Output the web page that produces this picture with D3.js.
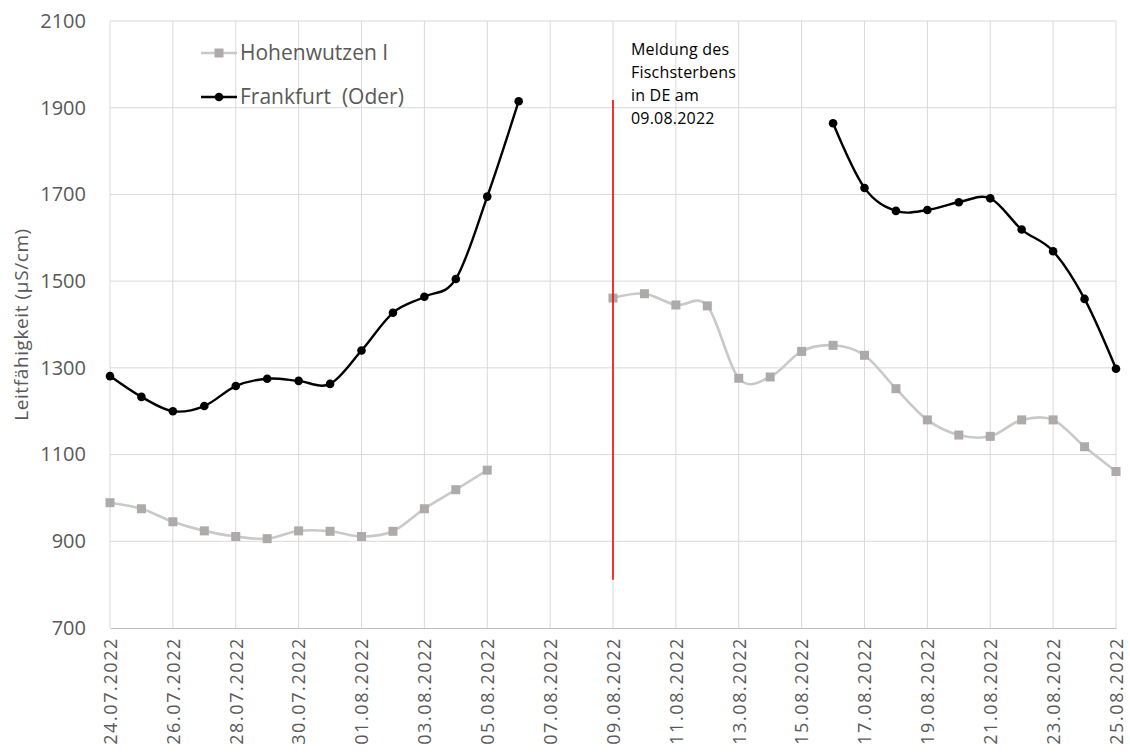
<!DOCTYPE html>
<html>
<head>
<meta charset="utf-8">
<script src="https://cdn.jsdelivr.net/npm/d3@7"></script>
<style>
  html, body { margin: 0; padding: 0; background: #fff; }
  svg { display: block; }
</style>
</head>
<body>
<svg id="chart" width="1130" height="755"></svg>
<script>
// ---- data ----
const dates = ["24.07.2022","25.07.2022","26.07.2022","27.07.2022","28.07.2022","29.07.2022","30.07.2022","31.07.2022",
  "01.08.2022","02.08.2022","03.08.2022","04.08.2022","05.08.2022","06.08.2022","07.08.2022","08.08.2022",
  "09.08.2022","10.08.2022","11.08.2022","12.08.2022","13.08.2022","14.08.2022","15.08.2022","16.08.2022",
  "17.08.2022","18.08.2022","19.08.2022","20.08.2022","21.08.2022","22.08.2022","23.08.2022","24.08.2022","25.08.2022"];
const tickLabels = dates.filter((d, i) => i % 2 === 0);
const yTicks = [700, 900, 1100, 1300, 1500, 1700, 1900, 2100];

const hohenwutzen = [989, 975, 945, 924, 911, 906, 924, 923, 911, 923, 975, 1019, 1064,
  null, null, null,
  1461, 1471, 1445, 1443, 1276, 1279, 1338, 1352, 1329, 1252, 1180, 1145, 1142, 1180, 1180, 1118, 1061];
const frankfurt = [1281, 1233, 1200, 1212, 1258, 1275, 1270, 1263, 1340, 1427, 1464, 1505, 1695, 1915,
  null, null, null, null, null, null, null, null, null,
  1864, 1715, 1662, 1664, 1682, 1691, 1619, 1569, 1459, 1298];

const eventDate = "09.08.2022";
const eventRange = [811, 1918];
const annotationLines = ["Meldung des", "Fischsterbens", "in DE am", "09.08.2022"];
const seriesNames = ["Hohenwutzen I", "Frankfurt  (Oder)"];
const yTitle = "Leitfähigkeit (µS/cm)";

// ---- layout ----
const svg = d3.select("#chart");
const pLeft = 110, pRight = 1116, pTop = 21, pBottom = 628;
const x = d3.scalePoint().domain(dates).range([pLeft, pRight]);
const y = d3.scaleLinear().domain([700, 2100]).range([pBottom, pTop]);
const font = "'Open Sans', 'DejaVu Sans', sans-serif";
const txtCol = "#595959";

// gridlines
svg.append("g").selectAll("line").data(yTicks.filter(v => v !== 700)).join("line")
  .attr("x1", pLeft).attr("x2", pRight).attr("y1", d => y(d)).attr("y2", d => y(d))
  .attr("stroke", "#d9d9d9").attr("stroke-width", 1);
svg.append("g").selectAll("line").data(tickLabels).join("line")
  .attr("x1", d => x(d)).attr("x2", d => x(d)).attr("y1", pTop).attr("y2", pBottom)
  .attr("stroke", "#d9d9d9").attr("stroke-width", 1);

// bottom axis
const xAxis = d3.axisBottom(x).tickValues(tickLabels).tickSize(0).tickPadding(10);
const gx = svg.append("g").attr("transform", `translate(0,${pBottom})`).call(xAxis);
gx.select(".domain").attr("stroke", "#bfbfbf").attr("stroke-width", 1.2);
gx.selectAll("text")
  .attr("transform", "rotate(-90)")
  .attr("x", -9).attr("y", 0).attr("dy", "0.35em")
  .style("text-anchor", "end")
  .attr("fill", txtCol)
  .style("font-family", font).style("font-size", "18px").style("letter-spacing", "1.6px");

// left axis
const yAxis = d3.axisLeft(y).tickValues(yTicks).tickSize(0).tickPadding(24).tickFormat(d3.format("d"));
const gy = svg.append("g").attr("transform", `translate(${pLeft},0)`).call(yAxis);
gy.select(".domain").remove();
gy.selectAll("text").attr("fill", txtCol)
  .style("font-family", font).style("font-size", "20px");

// y title
svg.append("text")
  .attr("transform", `translate(21,${(pTop + pBottom) / 2}) rotate(-90)`)
  .attr("text-anchor", "middle").attr("dy", "0.35em")
  .attr("fill", txtCol).style("font-family", font).style("font-size", "19px")
  .style("letter-spacing", "0.6px")
  .text(yTitle);

// lines
const line = d3.line()
  .defined(d => d.v !== null)
  .x(d => x(d.date)).y(d => y(d.v))
  .curve(d3.curveCatmullRom.alpha(0));

const hData = dates.map((d, i) => ({ date: d, v: hohenwutzen[i] }));
const fData = dates.map((d, i) => ({ date: d, v: frankfurt[i] }));

svg.append("path").datum(hData).attr("d", line)
  .attr("fill", "none").attr("stroke", "#c9c9c9").attr("stroke-width", 2.6);
svg.append("g").selectAll("rect").data(hData.filter(d => d.v !== null)).join("rect")
  .attr("x", d => x(d.date) - 4.5).attr("y", d => y(d.v) - 4.5)
  .attr("width", 9).attr("height", 9).attr("fill", "#aeaaaa");

svg.append("path").datum(fData).attr("d", line)
  .attr("fill", "none").attr("stroke", "#000").attr("stroke-width", 2.4);
svg.append("g").selectAll("circle").data(fData.filter(d => d.v !== null)).join("circle")
  .attr("cx", d => x(d.date)).attr("cy", d => y(d.v)).attr("r", 4.3).attr("fill", "#000");

// event line
svg.append("line")
  .attr("x1", x(eventDate)).attr("x2", x(eventDate))
  .attr("y1", y(eventRange[0])).attr("y2", y(eventRange[1]))
  .attr("stroke", "#ff0000").attr("stroke-width", 1.6);

// annotation
const ann = svg.append("text").attr("x", 631).attr("y", 55)
  .attr("fill", "#000").style("font-family", font).style("font-size", "16px")
  .style("letter-spacing", "0.2px");
ann.selectAll("tspan").data(annotationLines).join("tspan")
  .attr("x", 631).attr("dy", (d, i) => i === 0 ? 0 : 23).text(d => d);

// legend
const legend = svg.append("g");
const legY = [53, 97];
legend.append("line").attr("x1", 201).attr("x2", 237).attr("y1", legY[0]).attr("y2", legY[0])
  .attr("stroke", "#c9c9c9").attr("stroke-width", 2.6);
legend.append("rect").attr("x", 219 - 4.5).attr("y", legY[0] - 4.5).attr("width", 9).attr("height", 9).attr("fill", "#aeaaaa");
legend.append("line").attr("x1", 201).attr("x2", 237).attr("y1", legY[1]).attr("y2", legY[1])
  .attr("stroke", "#000").attr("stroke-width", 2.4);
legend.append("circle").attr("cx", 219).attr("cy", legY[1]).attr("r", 4.3).attr("fill", "#000");
legend.selectAll("text").data(seriesNames).join("text")
  .attr("x", 240).attr("y", (d, i) => legY[i]).attr("dy", "0.35em")
  .attr("fill", txtCol).style("font-family", font).style("font-size", "21px")
  .style("white-space", "pre")
  .text(d => d);
</script>
</body>
</html>
